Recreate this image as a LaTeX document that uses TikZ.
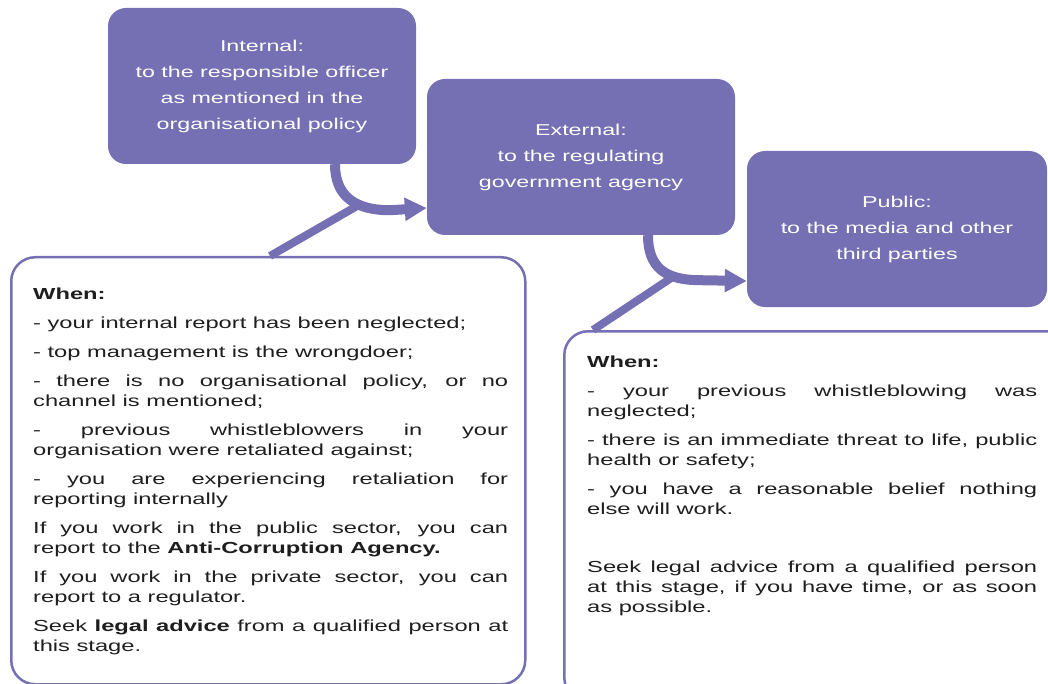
\documentclass[tikz,border=0pt]{standalone}
\usepackage{fontspec}
\setmainfont{Liberation Sans}[FakeStretch=1.48]
\usetikzlibrary{arrows.meta,positioning}
\definecolor{wbpurple}{RGB}{117,112,179}
\definecolor{wbtext}{RGB}{30,30,30}
\newcommand\casefont{\fontsize{16}{20}\selectfont\setlength{\parskip}{9pt}%
  \hyphenpenalty=10000\exhyphenpenalty=10000}

\begin{document}
\begin{tikzpicture}[x=1pt,y=-1pt,>={Triangle[length=22pt,width=22pt]}]
	\useasboundingbox (0,0) rectangle (1048,684);
	\tikzset{channel/.style={rectangle,rounded corners=18pt,fill=wbpurple,text=white,
		minimum height=156pt,align=center,font=\fontsize{15.7}{26}\selectfont}}
	\tikzset{casebox/.style={rectangle,rounded corners=24pt,draw=wbpurple,line width=2.5pt,anchor=north west}}
	\tikzset{casetext/.style={anchor=north west,inner sep=0pt,text=wbtext}}
	\tikzset{flow/.style={->,draw=wbpurple,line width=10pt}}
	\tikzset{link/.style={-,draw=wbpurple,line width=8pt}}
	% the three channels
	\node[channel,minimum width=308pt] (int) at (262,86) {Internal:\\to the responsible officer\\as mentioned in the\\organisational policy};
	\node[channel,minimum width=308pt] (ext) at (581,157) {External:\\to the regulating\\government agency};
	\node[channel,minimum width=300pt] (pub) at (897,229) {Public:\\to the media and other\\third parties};
	% when to go external
	\node[casebox,minimum width=514pt,minimum height=427pt] (whenext) at (10,256) {};
	\node[casetext] (extcases) at (33,288) {\begin{minipage}[t]{475pt}\casefont
		\textbf{When:}\par
		- your internal report has been neglected;\par
		- top management is the wrongdoer;\par
		- there is no organisational policy, or no\linebreak channel is mentioned;\par
		- previous whistleblowers in your\linebreak organisation were retaliated against;\par
		- you are experiencing retaliation for\linebreak reporting internally\par
		If you work in the public sector, you can\linebreak report to the \textbf{Anti-Corruption Agency.}\par
		If you work in the private sector, you can\linebreak report to a regulator.\par
		Seek \textbf{legal advice} from a qualified person at\linebreak this stage.
	\end{minipage}};
	% when to go public
	\node[casebox,minimum width=510pt,minimum height=370pt] (whenpub) at (563,330) {};
	\node[casetext] (pubcases) at (587,356) {\begin{minipage}[t]{450pt}\casefont
		\textbf{When:}\par
		- your previous whistleblowing was\linebreak neglected;\par
		- there is an immediate threat to life, public\linebreak health or safety;\par
		- you have a reasonable belief nothing\linebreak else will work.\par
		\mbox{}\par
		Seek legal advice from a qualified person\linebreak at this stage, if you have time, or as soon\linebreak as possible.
	\end{minipage}};
	% arrows
	\draw[flow] ([xshift=73pt]int.south) .. controls +(0,32) and +(-35,0) .. ++(55,46) coordinate[pos=0.65] (j1)
		-- ([yshift=-51pt]ext.west);
	\draw[flow] ([xshift=67pt]ext.south) .. controls +(0,32) and +(-35,0) .. ++(52,45) coordinate[pos=0.7] (j2)
		-- ([yshift=-52pt]pub.west);
	\draw[link] (j1) -- ([xshift=260pt]whenext.north west);
	\draw[link] (j2) -- ([xshift=30pt]whenpub.north west);
\end{tikzpicture}
\end{document}
